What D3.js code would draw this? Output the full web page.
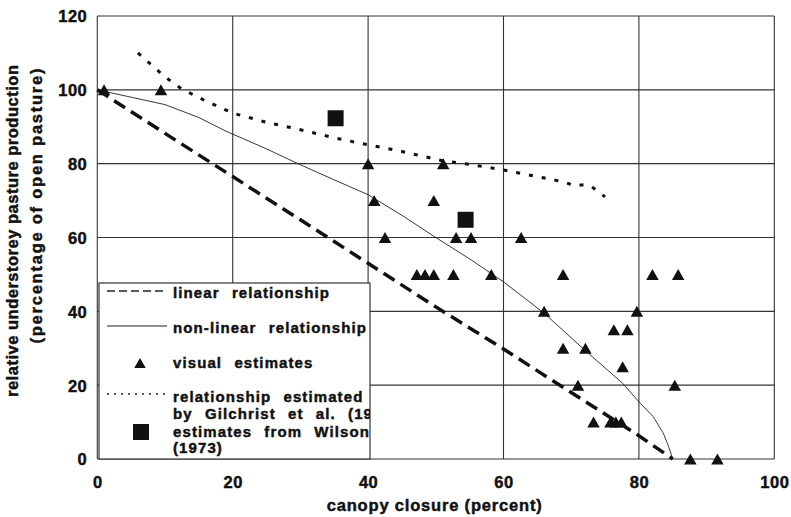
<!DOCTYPE html>
<html>
<head>
<meta charset="utf-8">
<script src="https://cdn.jsdelivr.net/npm/d3@7"></script>
<style>
  html, body { margin: 0; padding: 0; background: #fff; }
  svg { display: block; }
  text { font-family: "Liberation Sans", Arial, sans-serif; font-weight: bold; fill: #111; stroke: #111; stroke-width: 0.45px; }
</style>
</head>
<body>
<svg id="chart" width="791" height="517"></svg>
<script>
// Axis ticks
const xTicks = [0, 20, 40, 60, 80, 100];
const yTicks = [0, 20, 40, 60, 80, 100, 120];

// Visual estimates (triangles)
const visualX = [1, 9.4, 40, 51.1, 40.9, 49.7, 42.5, 53, 55.2, 62.6,
                 47.2, 48.4, 49.7, 52.6, 58.2, 68.8, 82, 85.8,
                 66, 79.7, 76.3, 78.3, 68.8, 72.1, 77.6, 71, 85.3,
                 73.3, 75.8, 76.6, 77.4, 87.6, 91.6];
const visualY = [100, 100, 80, 80, 70, 70, 60, 60, 60, 60,
                 50, 50, 50, 50, 50, 50, 50, 50,
                 40, 40, 35, 35, 30, 30, 25, 20, 20,
                 10, 10, 10, 10, 0, 0];

// Estimates from Wilson (1973) (squares)
const wilsonX = [35.2, 54.4];
const wilsonY = [92.3, 64.8];

// Linear relationship
const linearX = [0, 10, 20, 30, 40, 50, 60, 70, 80, 85];
const linearY = [100, 88.2, 76.5, 64.8, 53, 41.2, 29.8, 18, 6.3, 0];

// Non-linear relationship
const nonlinX = [0, 5, 10, 15, 19, 25, 30, 35, 40, 45, 50, 55, 60, 66, 72, 77.6, 80, 82.1, 83.6, 84.4, 85];
const nonlinY = [100, 98, 96, 92.5, 88.8, 84, 79.7, 75.6, 71.6, 66, 60, 54.2, 48, 39.5, 29.5, 20.5, 15.5, 11.5, 7, 3.3, 0];

// Relationship estimated by Gilchrist et al.
const gilX = [6, 10, 12.5, 16, 20, 25, 30, 35, 40, 45, 51, 55, 60, 65, 69, 70.5, 72, 73, 75];
const gilY = [110, 103.5, 100.2, 97, 93.7, 91.2, 89.2, 87, 85.1, 83.3, 80.8, 79.8, 78.3, 76.5, 75, 74, 74.3, 73.8, 71];

// Legend entries
const legendLabels = [
  ["linear relationship"],
  ["non-linear relationship"],
  ["visual estimates"],
  ["relationship estimated", "by Gilchrist et al. (19"],
  ["estimates from Wilson", "(1973)"]
];

const svg = d3.select("#chart");
const plotLeft = 97.3, plotRight = 774.3, plotTop = 16, plotBottom = 459;

const x = d3.scaleLinear().domain([0, 100]).range([plotLeft, plotRight]);
const y = d3.scaleLinear().domain([0, 120]).range([plotBottom, plotTop]);

const ink = "#111";

// Gridlines and frame
const grid = svg.append("g");
grid.selectAll("line.h").data(yTicks).join("line")
  .attr("x1", plotLeft).attr("x2", plotRight)
  .attr("y1", d => y(d)).attr("y2", d => y(d))
  .attr("stroke", "#333").attr("stroke-width", 1.1);
grid.selectAll("line.v").data(xTicks).join("line")
  .attr("y1", plotTop).attr("y2", plotBottom)
  .attr("x1", d => x(d)).attr("x2", d => x(d))
  .attr("stroke", "#333").attr("stroke-width", 1.1);

// Axes (labels only; lines come from the grid)
const xAxis = svg.append("g").attr("transform", `translate(0,${plotBottom})`)
  .call(d3.axisBottom(x).tickValues(xTicks).tickSize(0).tickPadding(0).tickFormat(d3.format("d")));
xAxis.select(".domain").remove();
xAxis.selectAll("text")
  .attr("y", 29).attr("dy", 0)
  .style("font-size", "16.5px").style("letter-spacing", "0.5px")
  .style("font-family", "'Liberation Sans', Arial, sans-serif").style("font-weight", "bold")
  .attr("fill", ink).attr("stroke", ink).attr("stroke-width", 0.5);

const yAxis = svg.append("g").attr("transform", `translate(${plotLeft},0)`)
  .call(d3.axisLeft(y).tickValues(yTicks).tickSize(0).tickPadding(0).tickFormat(d3.format("d")));
yAxis.select(".domain").remove();
yAxis.selectAll("text")
  .attr("x", -10).attr("dy", "0.36em")
  .style("font-size", "16.5px").style("letter-spacing", "0.5px")
  .style("font-family", "'Liberation Sans', Arial, sans-serif").style("font-weight", "bold")
  .attr("fill", ink).attr("stroke", ink).attr("stroke-width", 0.5);

// Axis titles
svg.append("text")
  .attr("x", (326.7 + 541.7) / 2).attr("y", 511)
  .attr("text-anchor", "middle")
  .attr("textLength", 215).attr("lengthAdjust", "spacing")
  .style("font-size", "16.5px")
  .text("canopy closure (percent)");

svg.append("text")
  .attr("transform", "translate(18,231) rotate(-90)")
  .attr("text-anchor", "middle")
  .attr("textLength", 332).attr("lengthAdjust", "spacing")
  .style("font-size", "16.5px")
  .text("relative understorey pasture production");

svg.append("text")
  .attr("transform", "translate(42,206) rotate(-90)")
  .attr("text-anchor", "middle")
  .attr("textLength", 275).attr("lengthAdjust", "spacing")
  .style("font-size", "16.5px")
  .text("(percentage of open pasture)");

// Series lines
const line = d3.line().x(d => x(d[0])).y(d => y(d[1]));
const zip = (a, b) => a.map((v, i) => [v, b[i]]);

svg.append("path").datum(zip(nonlinX, nonlinY))
  .attr("d", line).attr("fill", "none")
  .attr("stroke", "#222").attr("stroke-width", 0.9);

svg.append("path").datum(zip(gilX, gilY))
  .attr("d", line).attr("fill", "none")
  .attr("stroke", ink).attr("stroke-width", 3)
  .attr("stroke-dasharray", "4,9");

svg.append("path").datum(zip(linearX, linearY))
  .attr("d", line).attr("fill", "none")
  .attr("stroke", ink).attr("stroke-width", 3.5)
  .attr("stroke-dasharray", "13,7");

// Markers
const triPath = (cx, cy, w, h) =>
  `M${cx - w / 2},${cy + h / 2}L${cx + w / 2},${cy + h / 2}L${cx},${cy - h / 2}Z`;

svg.append("g").selectAll("path").data(zip(visualX, visualY)).join("path")
  .attr("d", d => triPath(x(d[0]), y(d[1]), 12.5, 11))
  .attr("fill", ink);

svg.append("g").selectAll("rect").data(zip(wilsonX, wilsonY)).join("rect")
  .attr("x", d => x(d[0]) - 8).attr("y", d => y(d[1]) - 8)
  .attr("width", 16).attr("height", 16)
  .attr("fill", ink);

// Legend
const lgX0 = 99, lgX1 = 370, lgY0 = 283, lgY1 = 459;
svg.append("clipPath").attr("id", "legend-clip")
  .append("rect").attr("x", lgX0).attr("y", lgY0).attr("width", lgX1 - lgX0).attr("height", lgY1 - lgY0);

const legend = svg.append("g");
legend.append("rect")
  .attr("x", lgX0).attr("y", lgY0).attr("width", lgX1 - lgX0).attr("height", lgY1 - lgY0)
  .attr("fill", "#fff").attr("stroke", "#333").attr("stroke-width", 1.2);

const lg = legend.append("g").attr("clip-path", "url(#legend-clip)");
const sx0 = 107, sx1 = 167, textX = 173;

lg.append("line").attr("x1", sx0).attr("x2", sx1).attr("y1", 291).attr("y2", 291)
  .attr("stroke", "#222").attr("stroke-width", 1.5).attr("stroke-dasharray", "8,4");
lg.append("line").attr("x1", sx0).attr("x2", sx1).attr("y1", 326).attr("y2", 326)
  .attr("stroke", "#222").attr("stroke-width", 1);
lg.append("path").attr("d", triPath(140, 363, 11.5, 10)).attr("fill", ink);
lg.append("line").attr("x1", sx0).attr("x2", sx1).attr("y1", 394).attr("y2", 394)
  .attr("stroke", "#222").attr("stroke-width", 1.6).attr("stroke-dasharray", "2,5");
lg.append("rect").attr("x", 141 - 8).attr("y", 432 - 8).attr("width", 16).attr("height", 16).attr("fill", ink);

const baselines = [[298], [333], [368], [401.5, 418.5], [436.5, 452.5]];
legendLabels.forEach((lines, i) => {
  lines.forEach((t, j) => {
    lg.append("text")
      .attr("x", textX).attr("y", baselines[i][j])
      .style("font-size", "15px")
      .style("letter-spacing", "1.1px")
      .style("word-spacing", "7px")
      .text(t);
  });
});
</script>
</body>
</html>
